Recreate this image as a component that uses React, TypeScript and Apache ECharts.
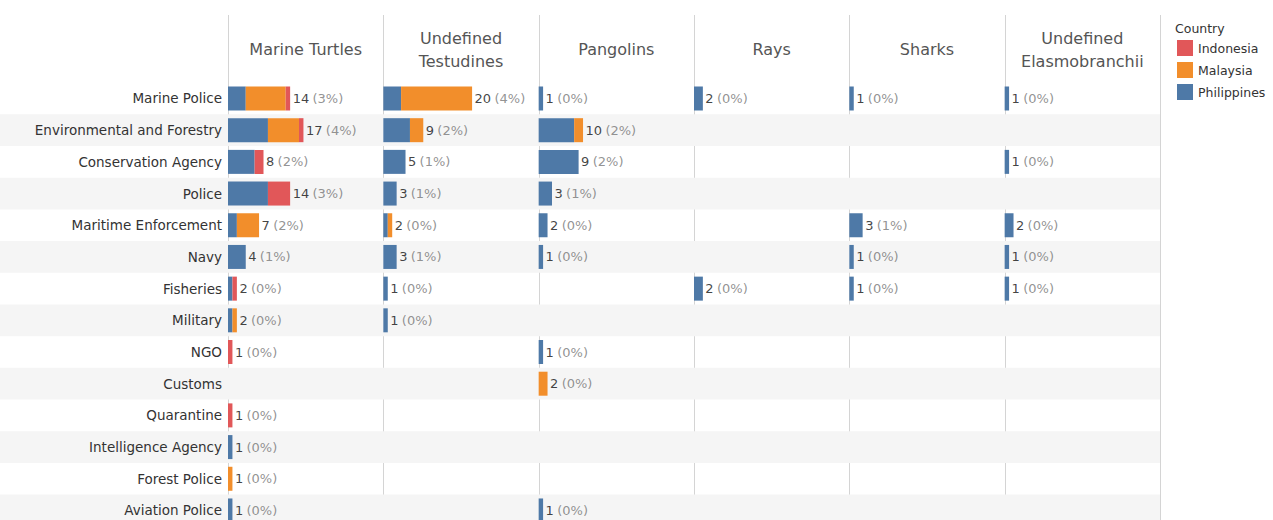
import React, { useEffect, useRef } from "react";
import * as echarts from "echarts";

const agencies = [
  "Marine Police",
  "Environmental and Forestry",
  "Conservation Agency",
  "Police",
  "Maritime Enforcement",
  "Navy",
  "Fisheries",
  "Military",
  "NGO",
  "Customs",
  "Quarantine",
  "Intelligence Agency",
  "Forest Police",
  "Aviation Police",
];

const species = [
  "Marine Turtles",
  "Undefined\nTestudines",
  "Pangolins",
  "Rays",
  "Sharks",
  "Undefined\nElasmobranchii",
];

const countries = ["Indonesia", "Malaysia", "Philippines"];
const countryColors = ["#e15759", "#f28e2b", "#4e79a7"];

// Marine Turtles
const turtlesPH = [4, 9, 6, 9, 2, 4, 1, 1, 0, 0, 0, 1, 0, 1];
const turtlesMY = [9, 7, 0, 0, 5, 0, 0, 1, 0, 0, 0, 0, 1, 0];
const turtlesID = [1, 1, 2, 5, 0, 0, 1, 0, 1, 0, 1, 0, 0, 0];
// Undefined Testudines
const testudinesPH = [4, 6, 5, 3, 1, 3, 1, 1, 0, 0, 0, 0, 0, 0];
const testudinesMY = [16, 3, 0, 0, 1, 0, 0, 0, 0, 0, 0, 0, 0, 0];
const testudinesID = [0, 0, 0, 0, 0, 0, 0, 0, 0, 0, 0, 0, 0, 0];
// Pangolins
const pangolinsPH = [1, 8, 9, 3, 2, 1, 0, 0, 1, 0, 0, 0, 0, 1];
const pangolinsMY = [0, 2, 0, 0, 0, 0, 0, 0, 0, 2, 0, 0, 0, 0];
const pangolinsID = [0, 0, 0, 0, 0, 0, 0, 0, 0, 0, 0, 0, 0, 0];
// Rays
const raysPH = [2, 0, 0, 0, 0, 0, 2, 0, 0, 0, 0, 0, 0, 0];
const raysMY = [0, 0, 0, 0, 0, 0, 0, 0, 0, 0, 0, 0, 0, 0];
const raysID = [0, 0, 0, 0, 0, 0, 0, 0, 0, 0, 0, 0, 0, 0];
// Sharks
const sharksPH = [1, 0, 0, 0, 3, 1, 1, 0, 0, 0, 0, 0, 0, 0];
const sharksMY = [0, 0, 0, 0, 0, 0, 0, 0, 0, 0, 0, 0, 0, 0];
const sharksID = [0, 0, 0, 0, 0, 0, 0, 0, 0, 0, 0, 0, 0, 0];
// Undefined Elasmobranchii
const elasmoPH = [1, 0, 1, 0, 2, 1, 1, 0, 0, 0, 0, 0, 0, 0];
const elasmoMY = [0, 0, 0, 0, 0, 0, 0, 0, 0, 0, 0, 0, 0, 0];
const elasmoID = [0, 0, 0, 0, 0, 0, 0, 0, 0, 0, 0, 0, 0, 0];

// estimated overall record count (percent of total shown in labels)
const totalRecords = 455;

const panelPH = [turtlesPH, testudinesPH, pangolinsPH, raysPH, sharksPH, elasmoPH];
const panelMY = [turtlesMY, testudinesMY, pangolinsMY, raysMY, sharksMY, elasmoMY];
const panelID = [turtlesID, testudinesID, pangolinsID, raysID, sharksID, elasmoID];

const FONT = "'DejaVu Sans', sans-serif";

export default function App() {
  const ref = useRef<HTMLDivElement>(null);

  useEffect(() => {
    if (!ref.current) return;
    const chart = echarts.init(ref.current, null, { renderer: "svg" });

    const panelLeft = 228;
    const panelW = 155.33;
    const top = 82.65;
    const rowH = 31.69;
    const gridH = rowH * agencies.length;

    const grids: any[] = [{ left: 0, top, width: 1160, height: gridH }];
    const xAxes: any[] = [{ gridIndex: 0, type: "value", show: false, min: 0, max: 1 }];
    const yAxes: any[] = [
      {
        gridIndex: 0,
        type: "category",
        inverse: true,
        data: agencies,
        axisLine: { show: false },
        axisTick: { show: false },
        axisLabel: { show: false },
        splitLine: { show: false },
        splitArea: { show: true, areaStyle: { color: ["rgba(255,255,255,0)", "#f5f5f5"] } },
      },
    ];
    const series: any[] = [];

    species.forEach((sp, i) => {
      const g = i + 1;
      grids.push({ left: panelLeft + panelW * i, top, width: panelW, height: gridH });
      xAxes.push({ gridIndex: g, type: "value", min: 0, max: 35, show: false });
      yAxes.push({
        gridIndex: g,
        type: "category",
        inverse: true,
        data: agencies,
        axisLine: { show: false },
        axisTick: { show: false },
        splitLine: { show: false },
        axisLabel: {
          show: i === 0,
          margin: 6,
          color: "#333",
          fontSize: 13.5,
          fontFamily: FONT,
        },
      });
      const stacks = [
        { name: "Philippines", data: panelPH[i], color: countryColors[2] },
        { name: "Malaysia", data: panelMY[i], color: countryColors[1] },
        { name: "Indonesia", data: panelID[i], color: countryColors[0] },
      ];
      stacks.forEach((s) => {
        series.push({
          type: "bar",
          name: s.name,
          xAxisIndex: g,
          yAxisIndex: g,
          stack: "p" + i,
          barWidth: 24,
          data: s.data.map((v) => (v === 0 ? "-" : v)),
          itemStyle: { color: s.color },
        });
      });
      const totals = agencies.map((_, k) => panelPH[i][k] + panelMY[i][k] + panelID[i][k]);
      series.push({
        type: "scatter",
        name: "total" + i,
        xAxisIndex: g,
        yAxisIndex: g,
        symbolSize: 1,
        itemStyle: { color: "rgba(0,0,0,0)" },
        data: totals
          .map((t, k) => (t > 0 ? [t, agencies[k]] : null))
          .filter((d) => d !== null),
        label: {
          show: true,
          position: "right",
          distance: 2,
          formatter: (p: any) => {
            const t = p.value[0];
            return `{a|${t}} {b|(${Math.round((t / totalRecords) * 100)}%)}`;
          },
          rich: {
            a: { color: "#111", fontSize: 13, fontFamily: FONT },
            b: { color: "#777", fontSize: 13, fontFamily: FONT },
          },
        },
      });
    });

    const graphics: any[] = [];
    for (let i = 0; i <= species.length; i++) {
      const x = Math.round(panelLeft + panelW * i) + 0.5;
      graphics.push({
        type: "line",
        shape: { x1: x, y1: 15, x2: x, y2: 530 },
        style: { stroke: "#d4d4d4", lineWidth: 1 },
        silent: true,
      });
    }
    species.forEach((sp, i) => {
      graphics.push({
        type: "text",
        x: panelLeft + panelW * (i + 0.5),
        y: 49.5,
        style: {
          text: sp,
          fill: "#555",
          font: `16px ${FONT}`,
          align: "center",
          verticalAlign: "middle",
          lineHeight: 23,
        },
      });
    });
    graphics.push({
      type: "text",
      x: 1175,
      y: 28,
      style: {
        text: "Country",
        fill: "#333",
        font: `12.5px ${FONT}`,
        verticalAlign: "middle",
      },
    });

    chart.setOption({
      animation: false,
      backgroundColor: "#fff",
      grid: grids,
      xAxis: xAxes,
      yAxis: yAxes,
      series,
      legend: {
        data: countries,
        orient: "vertical",
        left: 1172,
        top: 35,
        itemWidth: 16,
        itemHeight: 16,
        itemGap: 6,
        icon: "rect",
        selectedMode: false,
        textStyle: { color: "#333", fontSize: 12.5, fontFamily: FONT },
      },
      graphic: graphics,
    });

    return () => chart.dispose();
  }, []);

  return (
    <div style={{ position: "absolute", left: 0, top: 0, width: 1273, height: 520, overflow: "hidden" }}>
      <div ref={ref} style={{ width: 1273, height: 530 }} />
    </div>
  );
}
